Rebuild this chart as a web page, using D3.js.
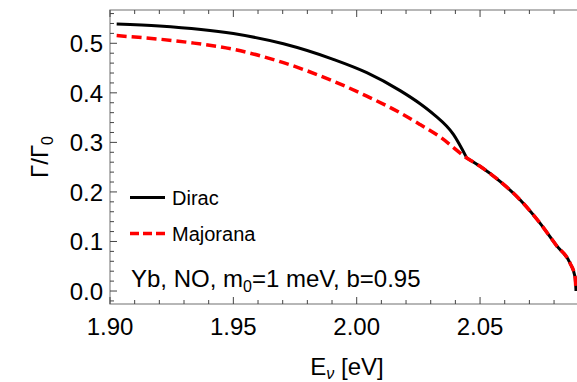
<!DOCTYPE html>
<html>
<head>
<meta charset="utf-8">
<script src="https://cdn.jsdelivr.net/npm/d3@7"></script>
<style>
  body { margin: 0; background: #fff; }
  svg { display: block; }
</style>
</head>
<body>
<svg id="chart"></svg>
<script>
// values
let energyDirac = [1.9027, 1.920, 1.950, 1.9703, 1.9905, 2.0041, 2.0176, 2.0257, 2.0311, 2.0392];
let diracHead   = [0.539, 0.535, 0.5196, 0.499, 0.4676, 0.4407, 0.4045, 0.378, 0.357, 0.316];
let energyMajorana = [1.9027, 1.9324, 1.950, 1.9703, 1.9905, 2.0041, 2.0176, 2.0257, 2.0338];
let majoranaHead   = [0.5155, 0.5014, 0.4879, 0.4609, 0.4237, 0.3933, 0.3597, 0.336, 0.311];
// both curves share the tail after the kink
let energyTail = [2.0446, 2.050, 2.0581, 2.0662, 2.0743, 2.0811, 2.0865, 2.0885, 2.0889];
let sharedTail = [0.2686, 0.2517, 0.2213, 0.1842, 0.137, 0.091, 0.0561, 0.029, 0.0];

let xTicks = [1.90, 1.95, 2.00, 2.05];
let yTicks = [0.0, 0.1, 0.2, 0.3, 0.4, 0.5];

let fontFamily = "'Liberation Sans', Arial, sans-serif";
let width = 577, height = 382;
let padding = { left: 110, top: 10, right: 0, bottom: 78 };

let svg = d3.select("#chart").attr("width", width).attr("height", height);

let xScale = d3.scaleLinear().domain([1.90, 2.0893]).range([padding.left, width - padding.right]);
let yScale = d3.scaleLinear().domain([-0.0262, 0.5672]).range([height - padding.bottom, padding.top]);

let toPoints = (xs, ys) => xs.map((x, i) => [x, ys[i]]);
let tail = toPoints(energyTail, sharedTail);
// dirac has a cusp where it meets the shared tail, so draw it in two pieces
let diracTop = toPoints(energyDirac, diracHead).concat([tail[0]]);
let majorana = toPoints(energyMajorana, majoranaHead).concat(tail);

let line = d3.line().x(d => xScale(d[0])).y(d => yScale(d[1])).curve(d3.curveMonotoneX);

// curves
[diracTop, tail].forEach(part => {
    svg.append("path").datum(part)
        .attr("d", line).attr("fill", "none")
        .attr("stroke", "#000").attr("stroke-width", 3);
});
svg.append("path").datum(majorana)
    .attr("d", line).attr("fill", "none")
    .attr("stroke", "#ff0000").attr("stroke-width", 3.5)
    .attr("stroke-dasharray", "10,5");

// frame
let x0 = padding.left, x1 = width + 2, y0 = padding.top, y1 = height - padding.bottom;
svg.append("rect")
    .attr("x", x0).attr("y", y0).attr("width", x1 - x0).attr("height", y1 - y0)
    .attr("fill", "none").attr("stroke", "#888").attr("stroke-width", 1.2);

// ticks (inside the frame, like mathematica)
let xMinor = d3.range(1.90, 2.0895, 0.01);
let yMinor = d3.range(-0.02, 0.567, 0.02);
let gTicks = svg.append("g").attr("stroke", "#444").attr("stroke-width", 1);
xMinor.forEach(v => {
    let major = xTicks.some(t => Math.abs(t - v) < 1e-6);
    let len = major ? 7 : 4;
    gTicks.append("line").attr("x1", xScale(v)).attr("x2", xScale(v)).attr("y1", y1).attr("y2", y1 - len);
    gTicks.append("line").attr("x1", xScale(v)).attr("x2", xScale(v)).attr("y1", y0).attr("y2", y0 + len);
});
yMinor.forEach(v => {
    let major = yTicks.some(t => Math.abs(t - v) < 1e-6);
    let len = major ? 7 : 4;
    gTicks.append("line").attr("x1", x0).attr("x2", x0 + len).attr("y1", yScale(v)).attr("y2", yScale(v));
});

// tick labels
svg.append("g").selectAll("text").data(xTicks).enter().append("text")
    .attr("x", d => xScale(d)).attr("y", y1 + 31)
    .attr("text-anchor", "middle")
    .attr("font-family", fontFamily).attr("font-size", 24)
    .text(d => d.toFixed(2));
svg.append("g").selectAll("text").data(yTicks).enter().append("text")
    .attr("x", x0 - 7).attr("y", d => yScale(d) + 9)
    .attr("text-anchor", "end")
    .attr("font-family", fontFamily).attr("font-size", 24)
    .text(d => d.toFixed(1));

// axis titles
let xt = svg.append("text")
    .attr("x", 347).attr("y", 375)
    .attr("text-anchor", "middle")
    .attr("font-family", fontFamily).attr("font-size", 24);
xt.append("tspan").text("E");
xt.append("tspan").attr("dy", 4).attr("font-size", 16).attr("font-style", "italic").text("ν");
xt.append("tspan").attr("dy", -4).text(" [eV]");

let yt = svg.append("text")
    .attr("transform", `translate(48, 157) rotate(-90)`)
    .attr("text-anchor", "middle")
    .attr("font-family", fontFamily).attr("font-size", 24);
yt.append("tspan").text("Γ/Γ");
yt.append("tspan").attr("dy", 5).attr("font-size", 16).text("0");

// legend
let legend = [
    { name: "Dirac", color: "#000", dash: null, width: 3 },
    { name: "Majorana", color: "#ff0000", dash: "9,4", width: 3.5 }
];
legend.forEach((d, i) => {
    let y = 197.5 + i * 36;
    svg.append("line").attr("x1", 130).attr("x2", 165).attr("y1", y).attr("y2", y)
        .attr("stroke", d.color).attr("stroke-width", d.width)
        .attr("stroke-dasharray", d.dash);
    svg.append("text").attr("x", 172).attr("y", y + 7)
        .attr("font-family", fontFamily).attr("font-size", 20)
        .text(d.name);
});

// annotation
let note = svg.append("text").attr("x", 131).attr("y", 287)
    .attr("font-family", fontFamily).attr("font-size", 24);
note.append("tspan").text("Yb, NO, m");
note.append("tspan").attr("dy", 5).attr("font-size", 16).text("0");
note.append("tspan").attr("dy", -5).text("=1 meV, b=0.95");
</script>
</body>
</html>
